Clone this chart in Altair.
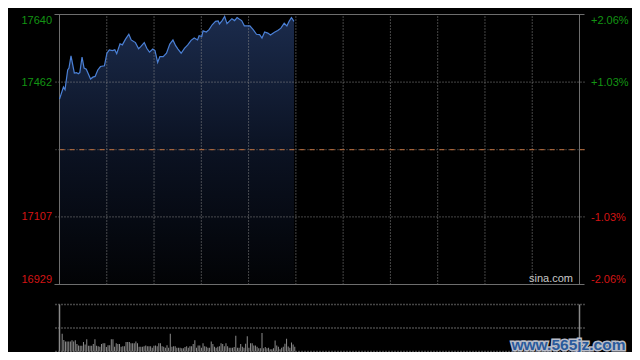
import altair as alt
import numpy as np
import pandas as pd

# ---------------- data ----------------
minutes = [0, 2.5, 3.5, 5.2, 6, 7.3, 9.4, 10.8, 11.9, 12.9,
           14.3, 15.6, 17, 19.7, 21.2, 22.6, 24.3, 26, 28.5, 30.1,
           31.6, 33.6, 35.1, 36.3, 38.4, 39.9, 41.9, 44, 45.5, 48.2,
           50.2, 51.7, 53.8, 55.4, 57.1, 59.2, 60.6, 62.3, 63.7, 65.8,
           67.9, 70, 72, 73.7, 75.2, 77.2, 79.3, 81.4, 83.5, 85.5,
           87.6, 88.6, 90.3, 91.1, 93.2, 94.9, 96.9, 99, 100.7, 101.5,
           103.2, 104.8, 106.3, 107.7, 109.4, 111.1, 112.7, 114, 115.6, 117.3,
           119.4, 120.8, 122.9, 125, 127, 128.5, 130.2, 132.2, 133.9, 136.4,
           138.5, 140.5, 142.6, 144.3, 145.7, 147.2, 148.8]
prices = [17417, 17449, 17442, 17494, 17499, 17531, 17486, 17487, 17484, 17487,
          17528, 17499, 17496, 17470, 17475, 17477, 17494, 17503, 17505, 17538,
          17547, 17545, 17547, 17537, 17563, 17560, 17575, 17588, 17573, 17566,
          17550, 17556, 17566, 17551, 17541, 17549, 17545, 17514, 17529, 17529,
          17538, 17562, 17573, 17558, 17549, 17538, 17551, 17560, 17572, 17578,
          17573, 17584, 17582, 17597, 17594, 17600, 17613, 17622, 17623, 17615,
          17624, 17635, 17616, 17622, 17629, 17624, 17632, 17628, 17624, 17610,
          17610, 17610, 17600, 17588, 17587, 17578, 17594, 17591, 17586, 17593,
          17598, 17604, 17617, 17610, 17622, 17632, 17622]
volumes = [57, 37, 32, 32, 32, 32, 36, 32, 36, 24, 19, 18, 18, 30, 22, 39, 18, 18, 18, 24,
           39, 18, 17, 15, 24, 26, 26, 14, 20, 20, 39, 39, 15, 26, 24, 24, 15, 17, 17, 30,
           30, 30, 26, 26, 26, 32, 26, 15, 15, 15, 17, 19, 17, 17, 17, 12, 18, 19, 17, 26,
           26, 17, 15, 12, 20, 12, 57, 15, 17, 17, 12, 12, 12, 10, 10, 14, 17, 12, 17, 17,
           24, 36, 12, 19, 19, 12, 26, 17, 15, 12, 12, 32, 24, 15, 12, 15, 17, 26, 24, 17,
           26, 17, 12, 12, 12, 14, 50, 12, 12, 24, 15, 12, 25, 49, 12, 26, 26, 19, 19, 15,
           10, 10, 59, 10, 14, 10, 12, 7, 7, 10, 35, 19, 15, 7, 12, 15, 25, 41, 16, 12,
           29, 22, 15]
prev_close = 17284
price_ticks = [16929, 17107, 17462, 17640]
pct_ticks = [-2.06, -1.03, 1.03, 2.06]
grid_prices = [17107, 17462]
grid_minutes = [30, 60, 90, 120, 150, 180, 210, 240, 270, 300]
session_edges = [0, 330]
vol_lines = [0, 75, 150]

# ---------------- layout / style ----------------
PLOT_W, PLOT_H = 530, 337
PRICE_H, VOL_TOP = 270, 290
GREEN, RED = "#139413", "#d41414"
GRID, FRAME = "#8a8a8a", "#6e6e6e"
LINE = "#4b80d6"
FONT = "Liberation Sans"
P_LO, P_HI = price_ticks[0], price_ticks[-1]

price_df = pd.DataFrame({"minute": minutes, "price": prices})
vol_df = pd.DataFrame({"minute": np.linspace(1.7, 149.3, len(volumes)), "volume": volumes})

xs = alt.Scale(domain=[0, 330], nice=False, zero=False)
X = alt.X("minute:Q", scale=xs, axis=None)


def ys():
    return alt.Scale(domain=[P_LO, P_HI], range=[PRICE_H, 0], nice=False, zero=False)


def vs():
    return alt.Scale(domain=[0, 150], range=[PLOT_H, VOL_TOP], nice=False, zero=False)


left_axis = alt.Axis(
    values=price_ticks, orient="left", title=None, domain=False, ticks=False, grid=False,
    format="d", labelFlush=True, labelFont=FONT, labelFontSize=11, labelPadding=3,
    labelColor={"condition": {"test": f"datum.value > {prev_close}", "value": GREEN}, "value": RED},
)
right_axis = alt.Axis(
    values=pct_ticks, orient="right", title=None, domain=False, ticks=False, grid=False,
    labelFlush=True, labelFont=FONT, labelFontSize=11, labelPadding=6,
    labelExpr="datum.value > 0 ? '+' + format(datum.value, '.2f') + '%' : '-' + format(-datum.value, '.2f') + '%'",
    labelColor={"condition": {"test": "datum.value > 0", "value": GREEN}, "value": RED},
)

gradient = alt.Gradient(
    gradient="linear", x1=0, x2=0, y1=0, y2=1,
    stops=[alt.GradientStop(color="#1b2b4c", offset=0),
           alt.GradientStop(color="#0b1222", offset=0.5),
           alt.GradientStop(color="#020305", offset=1)],
)

price_axis_layer = alt.Chart(pd.DataFrame({"price": price_ticks})).mark_point(opacity=0).encode(
    x=alt.value(0), y=alt.Y("price:Q", scale=ys(), axis=left_axis))
pct_axis_layer = alt.Chart(pd.DataFrame({"pct": pct_ticks})).mark_point(opacity=0).encode(
    x=alt.value(0),
    y=alt.Y("pct:Q", scale=alt.Scale(domain=[-2.06, 2.06], range=[PRICE_H, 0], nice=False, zero=False),
            axis=right_axis))

area = alt.Chart(price_df).mark_area(color=gradient).encode(
    x=X, y=alt.Y("price:Q", scale=ys(), axis=None), y2=alt.datum(P_LO))
line = alt.Chart(price_df).mark_line(color=LINE, strokeWidth=1.2).encode(
    x=X, y=alt.Y("price:Q", scale=ys(), axis=None))
hgrid = alt.Chart(pd.DataFrame({"price": grid_prices})).mark_rule(
    color=GRID, strokeDash=[1, 2], strokeWidth=1).encode(y=alt.Y("price:Q", scale=ys(), axis=None))
vgrid = alt.Chart(pd.DataFrame({"minute": grid_minutes, "lo": P_LO, "hi": P_HI})).mark_rule(
    color=GRID, strokeDash=[1, 2], strokeWidth=1).encode(
    x=X, y=alt.Y("lo:Q", scale=ys(), axis=None), y2="hi:Q")
mid_df = pd.DataFrame({"price": [prev_close]})
mid_gray = alt.Chart(mid_df).mark_rule(color="#6a6a6a", strokeDash=[1, 2]).encode(
    y=alt.Y("price:Q", scale=ys(), axis=None))
mid_orange = alt.Chart(mid_df).mark_rule(color="#c0703e", strokeDash=[5, 5]).encode(
    y=alt.Y("price:Q", scale=ys(), axis=None))
frame_h = alt.Chart(pd.DataFrame({"price": [P_LO, P_HI]})).mark_rule(color=FRAME).encode(
    y=alt.Y("price:Q", scale=ys(), axis=None))
frame_v = alt.Chart(pd.DataFrame({"minute": session_edges, "lo": P_LO, "hi": P_HI})).mark_rule(
    color=FRAME).encode(x=X, y=alt.Y("lo:Q", scale=ys(), axis=None), y2="hi:Q")
sina = alt.Chart(pd.DataFrame({"t": ["sina.com"]})).mark_text(
    font=FONT, fontSize=11, color="#c8c8c8", align="right", baseline="middle").encode(
    x=alt.value(518.5), y=alt.value(264.5), text="t:N")

bars = alt.Chart(vol_df).mark_bar(color="#8c8c8c", size=1).encode(
    x=X, y=alt.Y("volume:Q", scale=vs(), axis=None))
vgrid_lines = alt.Chart(pd.DataFrame({"volume": vol_lines})).mark_rule(
    color=GRID, strokeDash=[1, 2], strokeWidth=1.5).encode(y=alt.Y("volume:Q", scale=vs(), axis=None))
vol_edges = alt.Chart(pd.DataFrame({"minute": session_edges, "lo": 0, "hi": 150})).mark_rule(
    color="#8a8a8a", strokeWidth=1.5).encode(x=X, y=alt.Y("lo:Q", scale=vs(), axis=None), y2="hi:Q")
wm_df = pd.DataFrame({"t": ["www.565jz.com"]})
wm_outline = alt.Chart(wm_df).mark_text(
    font=FONT, fontSize=15.5, fontWeight="bold", align="left", baseline="middle",
    color="#b8bcc8", stroke="#b8bcc8", strokeWidth=3).encode(
    x=alt.value(457), y=alt.value(330), text="t:N")
wm_fill = alt.Chart(wm_df).mark_text(
    font=FONT, fontSize=15.5, fontWeight="bold", align="left", baseline="middle",
    color="#2a5a9c").encode(x=alt.value(457), y=alt.value(330), text="t:N")

chart = alt.layer(
    price_axis_layer, pct_axis_layer, area, hgrid, vgrid, mid_gray, mid_orange, frame_h, frame_v,
    line, sina, vgrid_lines, bars, vol_edges, wm_outline, wm_fill,
).resolve_scale(y="independent").properties(
    width=PLOT_W, height=PLOT_H,
    padding={"left": 46.5, "top": 6.5, "right": 47.5, "bottom": 0.5},
    autosize=alt.AutoSizeParams(type="none"),
    background="#000000",
).configure_view(stroke=None)

chart.save("out.html", embed_options={"renderer": "svg", "actions": False})
